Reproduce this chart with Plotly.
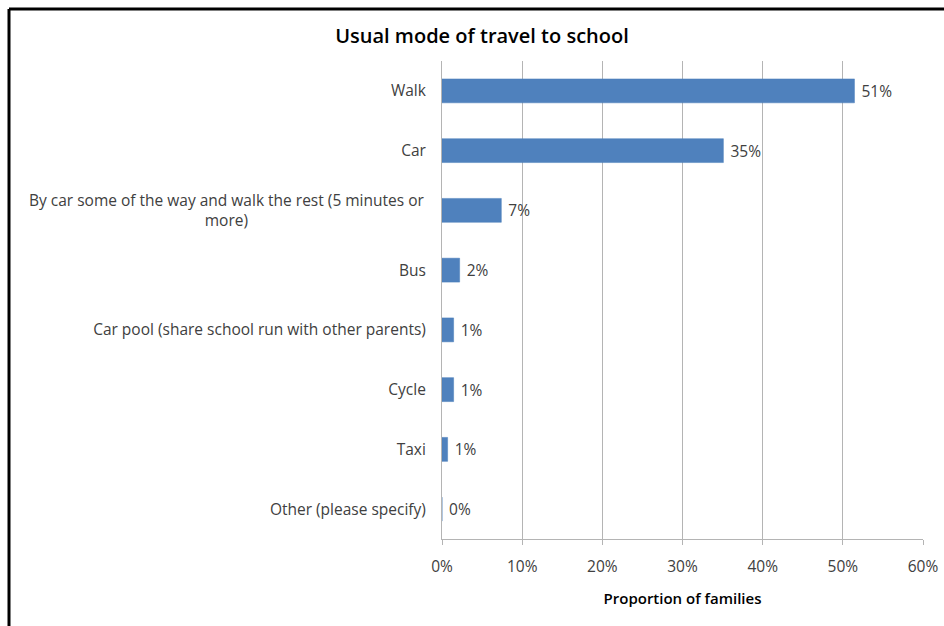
import plotly.graph_objects as go

categories = [
    "Walk",
    "Car",
    "By car some of the way and walk the rest (5 minutes or more)",
    "Bus",
    "Car pool (share school run with other parents)",
    "Cycle",
    "Taxi",
    "Other (please specify)",
]
proportions = [0.5145, 0.351, 0.074, 0.022, 0.0145, 0.0145, 0.007, 0.0]
x_ticks = [0, 0.1, 0.2, 0.3, 0.4, 0.5, 0.6]
title_text = "Usual mode of travel to school"
x_title = "Proportion of families"

FONT = "Open Sans"
FS = 15.5
TXT = "#404040"
GRID = "#b4b4b4"

# wrapped label for the long category: drawn as a centred annotation
long_cat = categories[2]
tick_text = ["" if c == long_cat else c for c in categories]

fig = go.Figure(
    go.Bar(
        y=categories,
        x=proportions,
        orientation="h",
        marker=dict(color="#4F81BD", line=dict(color="#4a7ebb", width=0.5)),
        text=["\u00a0" + f"{round(v * 100):.0f}%" for v in proportions],
        textposition="outside",
        textfont=dict(family=FONT, size=FS, color=TXT),
        cliponaxis=False,
    )
)

fig.add_annotation(
    x=0, xref="x", y=long_cat, yref="y",
    text="By car some of the way and walk the rest (5 minutes or<br>more)",
    showarrow=False, xanchor="right", yanchor="middle", align="center",
    xshift=-15, font=dict(family=FONT, size=FS, color=TXT),
)

L, R, T, B = 442, 21, 61, 87
PW, PH = 944 - L - R, 626 - T - B

fig.update_layout(
    width=944, height=626,
    margin=dict(l=L, r=R, t=T, b=B, autoexpand=False),
    paper_bgcolor="white", plot_bgcolor="white",
    showlegend=False,
    bargap=0.6,
    title=dict(
        text=title_text, x=482 / 944, xref="container", xanchor="center",
        y=1 - 36 / 626, yref="container", yanchor="middle",
        font=dict(family=FONT, size=20, color="#000000", weight=600),
    ),
    xaxis=dict(
        range=[0, 0.6], tickvals=x_ticks, tickformat=".0%",
        showgrid=True, gridcolor=GRID, gridwidth=1,
        showline=True, linecolor=GRID, linewidth=1,
        ticks="outside", ticklen=5, tickcolor=GRID,
        ticklabelstandoff=8, automargin=False,
        tickfont=dict(family=FONT, size=FS, color=TXT),
        zeroline=False,
        title=dict(text=x_title, standoff=17,
                   font=dict(family=FONT, size=15, color="#000000", weight=600)),
    ),
    yaxis=dict(
        categoryorder="array", categoryarray=categories[::-1],
        tickvals=categories, ticktext=tick_text,
        showline=True, linecolor=GRID, linewidth=1,
        ticks="", ticklabelstandoff=12, automargin=False,
        tickfont=dict(family=FONT, size=FS, color=TXT),
        showgrid=False, zeroline=False,
    ),
    shapes=[
        dict(type="line", xref="paper", yref="paper",
             x0=(9 - L) / PW, x1=(9 - L) / PW,
             y0=1 + (T - 9) / PH, y1=-(B + 5) / PH,
             line=dict(color="black", width=3)),
        dict(type="line", xref="paper", yref="paper",
             x0=(9 - L) / PW, x1=1 + (R + 5) / PW,
             y0=1 + (T - 9) / PH, y1=1 + (T - 9) / PH,
             line=dict(color="black", width=3)),
    ],
)

fig.write_html("out.html")
